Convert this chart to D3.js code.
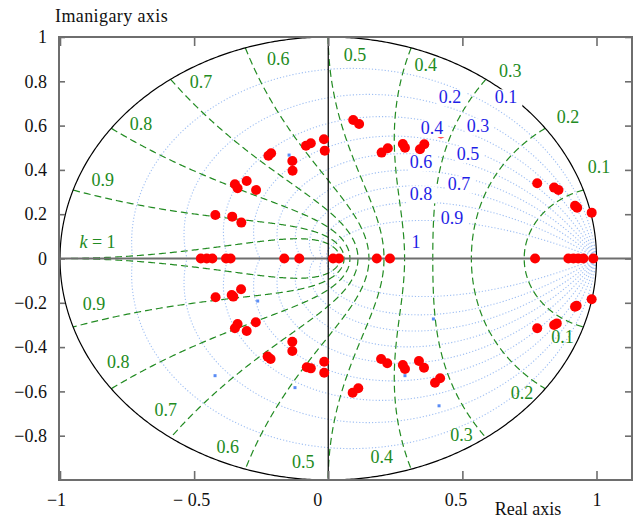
<!DOCTYPE html>
<html>
<head>
<meta charset="utf-8">
<script src="https://cdn.jsdelivr.net/npm/d3@7"></script>
<style>
  body { margin: 0; background: #fff; }
  text { font-family: "Liberation Serif", "Times New Roman", serif; }
</style>
</head>
<body>
<svg id="chart" width="640" height="520"></svg>
<script>
// ---- grid levels -------------------------------------------------------
// constant natural frequency curves, as fractions of pi/T
const wnLevels = [0.1, 0.2, 0.3, 0.4, 0.5, 0.6, 0.7, 0.8, 0.9, 1.0];
const wnLabelsUpper = ["0.1", "0.2", "0.3", "0.4", "0.5", "0.6", "0.7", "0.8", "0.9", "k = 1"];
const wnLabelsLower = ["0.1", "0.2", "0.3", "0.4", "0.5", "0.6", "0.7", "0.8", "0.9"];
// constant damping ratio spirals
const zetaLevels = [0.1, 0.2, 0.3, 0.4, 0.5, 0.6, 0.7, 0.8, 0.9];
const zetaLabels = ["0.1", "0.2", "0.3", "0.4", "0.5", "0.6", "0.7", "0.8", "0.9", "1"];

// ---- axis ticks --------------------------------------------------------
const xTicks = [-1, -0.5, 0, 0.5, 1];
const xTickLabels = ["\u22121", "\u2212 0.5", "0", "0.5", "1"];
const yTicks = [1, 0.8, 0.6, 0.4, 0.2, 0, -0.2, -0.4, -0.6, -0.8];
const yTickLabels = ["1", "0.8", "0.6", "0.4", "0.2", "0", "\u22120.2", "\u22120.4", "\u22120.6", "\u22120.8"];

// ---- closed-loop poles ---------------------------------------------------
const upperRe = [-0.083, -0.065, -0.016, -0.013, -0.223, -0.213, -0.134, -0.133, -0.348, -0.338,
                 -0.304, -0.269, -0.421, -0.358, -0.324, 0.093, 0.115, 0.199, 0.222, 0.278,
                 0.286, 0.342, 0.358, 0.420, 0.779, 0.842, 0.858, 0.920, 0.928, 0.982];
const upperIm = [0.509, 0.520, 0.538, 0.487, 0.464, 0.475, 0.440, 0.396, 0.335, 0.317,
                 0.350, 0.309, 0.196, 0.189, 0.162, 0.625, 0.607, 0.478, 0.498, 0.517,
                 0.500, 0.493, 0.516, 0.564, 0.340, 0.320, 0.309, 0.238, 0.229, 0.207];
const realPoles = [-0.475, -0.453, -0.432, -0.381, -0.364, -0.164, -0.108, 0.018, 0.040,
                   0.181, 0.230, 0.771, 0.895, 0.914, 0.932, 0.951, 0.988];
const lowerRe = [-0.325, -0.420, -0.360, -0.354, -0.270, -0.348, -0.338, -0.304, -0.134, -0.134,
                 -0.226, -0.215, -0.080, -0.065, -0.015, -0.015, 0.197, 0.220, 0.278, 0.286,
                 0.338, 0.357, 0.398, 0.417, 0.091, 0.112, 0.779, 0.842, 0.852, 0.920,
                 0.926, 0.982];
const lowerIm = [-0.139, -0.175, -0.165, -0.172, -0.288, -0.315, -0.296, -0.327, -0.376, -0.418,
                 -0.443, -0.454, -0.491, -0.496, -0.466, -0.516, -0.454, -0.473, -0.481, -0.499,
                 -0.463, -0.493, -0.561, -0.541, -0.606, -0.586, -0.315, -0.300, -0.293, -0.218,
                 -0.213, -0.184];
// open-loop markers
const markRe = [-0.146, -0.263, -0.422, -0.124, 0.392, 0.286, 0.413];
const markIm = [0.467, -0.192, -0.529, -0.583, -0.273, -0.529, -0.665];

// ---- layout ------------------------------------------------------------
const W = 640, H = 520;
const frame = { left: 59, right: 632, top: 37, bottom: 480 };
const x = d3.scaleLinear().domain([-1, 1]).range([60, 596.5]);
const y = d3.scaleLinear().domain([-1, 1]).range([480, 37]);
const GREEN = "#228b22", BLUE = "#1f1fe6", GRID_BLUE = "#9fbff3", RED = "#ff0000", AXIS = "#6e6e6e";
const FONT = 18;
// label offsets (px) from the end of each wn curve on the unit circle
const wnUpperOffset = [[15.6, -23.4], [22.7, -11.6], [24.3, -8.8], [14.7, 17.2], [26.8, 18],
                       [32.9, 10.5], [30.5, 2.4], [29.8, -5], [29.7, -10.1], [37.5, -16.5]];
const wnLowerOffset = [[-20.9, 9.8], [-23.3, 3.8], [-24.3, -2.7], [-29.4, -12.5], [-25, -18.3],
                       [-17.7, -22.5], [-4.8, -28], [7.1, -27], [20.9, -23.2]];
// damping-ratio label anchors in the z-plane
const zetaLabelAt = [[0.663, 0.729], [0.454, 0.729], [0.558, 0.598], [0.387, 0.589], [0.521, 0.472],
                     [0.346, 0.436], [0.487, 0.336], [0.346, 0.291], [0.461, 0.183], [0.327, 0.074]];
const xLabelNudge = [-4, -3, -11, -7, 0];

const svg = d3.select("#chart");
svg.append("rect").attr("width", W).attr("height", H).attr("fill", "#fff");

const line = d3.line().x(d => x(d[0])).y(d => y(d[1]));

// ---- damping ratio spirals (blue dotted) -------------------------------
const gZeta = svg.append("g");
zetaLevels.forEach(z => {
  const a = z / Math.sqrt(1 - z * z);
  [1, -1].forEach(s => {
    const pts = d3.range(0, 241).map(i => {
      const th = Math.PI * i / 240, r = Math.exp(-a * th);
      return [r * Math.cos(th), s * r * Math.sin(th)];
    });
    gZeta.append("path").attr("d", line(pts)).attr("fill", "none")
      .attr("stroke", GRID_BLUE).attr("stroke-width", 1.1)
      .attr("stroke-dasharray", "1.2,2");
  });
});

// ---- natural frequency curves (green dashed) ---------------------------
const gWn = svg.append("g");
wnLevels.forEach(k => {
  const up = d3.range(0, 301).map(i => {
    const z = i / 300, r = Math.exp(-z * k * Math.PI), th = k * Math.PI * Math.sqrt(1 - z * z);
    return [r * Math.cos(th), r * Math.sin(th)];
  });
  const down = up.slice().reverse().map(p => [p[0], -p[1]]);
  gWn.append("path").attr("d", line(up.concat(down))).attr("fill", "none")
    .attr("stroke", GREEN).attr("stroke-width", 1.2).attr("stroke-dasharray", "7,4");
});

// ---- unit circle --------------------------------------------------------
const circ = d3.range(0, 721).map(i => [Math.cos(i * Math.PI / 360), Math.sin(i * Math.PI / 360)]);
svg.append("path").attr("d", line(circ)).attr("fill", "none").attr("stroke", "#000").attr("stroke-width", 1.2);

// ---- coordinate axes through the origin --------------------------------
svg.append("line").attr("x1", frame.left).attr("x2", frame.right).attr("y1", y(0)).attr("y2", y(0))
  .attr("stroke", AXIS).attr("stroke-width", 2);
svg.append("line").attr("x1", x(0)).attr("x2", x(0)).attr("y1", frame.top).attr("y2", frame.bottom)
  .attr("stroke", "#111").attr("stroke-width", 1.3);

// ---- frame and ticks ----------------------------------------------------
function styleAxis(g) {
  g.attr("font-family", null);
  g.select(".domain").remove();
  g.selectAll(".tick line").attr("stroke", AXIS).attr("stroke-width", 1.6);
  g.selectAll("text").attr("font-size", FONT).attr("fill", "#111");
}
const gx = svg.append("g").attr("transform", `translate(0,${frame.bottom})`)
  .call(d3.axisBottom(x).tickValues(xTicks).tickSize(-9).tickPadding(13)
    .tickFormat((d, i) => xTickLabels[i]))
  .call(styleAxis);
gx.selectAll(".tick text").attr("dx", (d, i) => xLabelNudge[i]);
svg.append("g").attr("transform", `translate(0,${frame.top})`)
  .call(d3.axisTop(x).tickValues(xTicks).tickSize(-9).tickFormat(""))
  .call(styleAxis);
svg.append("g").attr("transform", `translate(${frame.left},0)`)
  .call(d3.axisLeft(y).tickValues(yTicks).tickSize(-6).tickPadding(12)
    .tickFormat((d, i) => yTickLabels[i]))
  .call(styleAxis);
svg.append("g").attr("transform", `translate(${frame.right},0)`)
  .call(d3.axisRight(y).tickValues(yTicks).tickSize(-7).tickFormat(""))
  .call(styleAxis);
svg.append("rect").attr("x", frame.left).attr("y", frame.top)
  .attr("width", frame.right - frame.left).attr("height", frame.bottom - frame.top)
  .attr("fill", "none").attr("stroke", AXIS).attr("stroke-width", 2);

// ---- poles ----------------------------------------------------------------
const poles = upperRe.map((v, i) => [v, upperIm[i]])
  .concat(realPoles.map(v => [v, 0]))
  .concat(lowerRe.map((v, i) => [v, lowerIm[i]]));
svg.append("g").selectAll("circle").data(poles).join("circle")
  .attr("cx", d => x(d[0])).attr("cy", d => y(d[1])).attr("r", 5).attr("fill", RED);

svg.append("g").selectAll("rect").data(markRe.map((v, i) => [v, markIm[i]])).join("rect")
  .attr("x", d => x(d[0]) - 1.5).attr("y", d => y(d[1]) - 1.5)
  .attr("width", 3).attr("height", 3).attr("fill", "#5a8cf5");

// ---- damping ratio labels (blue, on white) --------------------------------
const gZl = svg.append("g");
zetaLabels.forEach((t, i) => {
  const g = gZl.append("g");
  const txt = g.append("text").attr("x", x(zetaLabelAt[i][0])).attr("y", y(zetaLabelAt[i][1]))
    .attr("dy", "0.35em").attr("text-anchor", "middle").attr("font-size", FONT)
    .attr("fill", BLUE).text(t);
  const b = txt.node().getBBox();
  g.insert("rect", "text").attr("x", b.x - 2).attr("y", b.y + 2)
    .attr("width", b.width + 7).attr("height", b.height - 3).attr("fill", "#fff");
});

// ---- natural frequency labels (green) --------------------------------------
const gWl = svg.append("g");
wnLevels.forEach((k, i) => {
  const px = x(Math.cos(k * Math.PI)) + wnUpperOffset[i][0];
  const py = y(Math.sin(k * Math.PI)) + wnUpperOffset[i][1];
  const t = gWl.append("text").attr("x", px).attr("y", py).attr("dy", "0.35em")
    .attr("text-anchor", "middle").attr("font-size", FONT).attr("fill", GREEN);
  if (wnLabelsUpper[i].startsWith("k")) {
    t.append("tspan").attr("font-style", "italic").text("k");
    t.append("tspan").text(" = 1");
  } else {
    t.text(wnLabelsUpper[i]);
  }
});
wnLabelsLower.forEach((lab, i) => {
  const k = wnLevels[i];
  gWl.append("text")
    .attr("x", x(Math.cos(k * Math.PI)) + wnLowerOffset[i][0])
    .attr("y", y(-Math.sin(k * Math.PI)) + wnLowerOffset[i][1])
    .attr("dy", "0.35em").attr("text-anchor", "middle").attr("font-size", FONT)
    .attr("fill", GREEN).text(lab);
});

// ---- axis titles -----------------------------------------------------------
svg.append("text").attr("x", 55).attr("y", 22).attr("font-size", FONT).attr("fill", "#111")
  .attr("letter-spacing", 0.4).text("Imanigary axis");
svg.append("text").attr("x", 528).attr("y", 515).attr("text-anchor", "middle")
  .attr("font-size", FONT).attr("fill", "#111").text("Real axis");
</script>
</body>
</html>
